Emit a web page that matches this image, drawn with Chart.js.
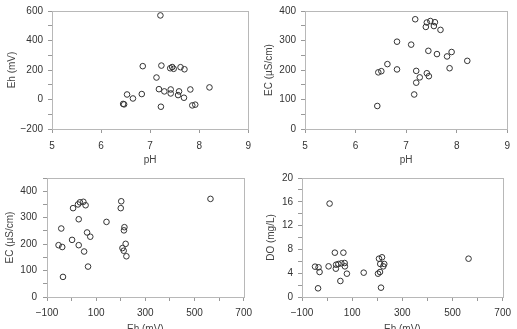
<!DOCTYPE html>
<html>
<head>
<meta charset="utf-8">
<script src="https://cdn.jsdelivr.net/npm/chart.js@4"></script>
<style>
  html, body { margin: 0; padding: 0; background: #fff; overflow: hidden; }
  body { width: 517px; height: 329px; position: relative; }
  canvas { position: absolute; }
</style>
</head>
<body>
<canvas id="c1" width="258" height="166" style="left:0;top:0"></canvas>
<canvas id="c2" width="259" height="166" style="left:258px;top:0"></canvas>
<canvas id="c3" width="258" height="169" style="left:0;top:166px"></canvas>
<canvas id="c4" width="259" height="169" style="left:258px;top:166px"></canvas>
<script>
// pH vs Eh
const phA = [7.21, 6.85, 7.23, 7.13, 7.41, 7.45, 7.48, 7.62, 7.70, 7.18, 7.29, 7.42, 7.42, 7.59, 7.57, 7.69, 7.82, 8.21, 6.53, 6.65, 6.83, 6.45, 6.47, 7.22, 7.86, 7.92];
const ehA = [570, 226, 230, 149, 212, 220, 208, 219, 205, 70, 55, 68, 41, 55, 30, 12, 68, 82, 34, 7, 37, -30, -33, -49, -40, -35];

// pH vs EC
const phB = [7.18, 7.41, 7.48, 7.57, 7.39, 7.55, 7.68, 6.82, 7.10, 7.44, 7.61, 7.90, 7.81, 8.21, 6.63, 6.82, 7.86, 6.45, 6.51, 7.20, 7.41, 7.27, 7.45, 7.20, 7.16, 6.43];
const ecB = [372, 361, 366, 362, 346, 349, 336, 296, 286, 265, 254, 261, 246, 231, 220, 202, 206, 192, 196, 197, 189, 175, 179, 157, 117, 78];

// Eh vs EC
const ehC = [565, 202, 200, 6, 26, 34, 48, 57, 29, 142, -42, 215, 213, 63, 76, 2, -53, -38, 29, 220, 207, 212, 51, 223, 67, -35];
const ecC = [371, 362, 336, 336, 350, 358, 360, 347, 294, 284, 259, 264, 252, 244, 228, 216, 196, 189, 196, 201, 185, 175, 172, 154, 115, 76];

// Eh vs DO
const ehD = [10, 31, 65, 207, 219, 564, 57, 70, 36, 45, 71, 35, -48, -34, 6, 212, 224, 228, -30, 79, 146, 203, 211, 53, -36, 215];
const doD = [15.7, 7.45, 7.45, 6.44, 6.67, 6.44, 5.66, 5.71, 5.43, 5.55, 5.15, 4.76, 5.1, 4.99, 5.15, 5.55, 5.15, 5.55, 4.2, 3.92, 4.09, 3.92, 4.2, 2.69, 1.46, 1.57];

// tick labels shown (others are minor ticks only)
const phTicks = [5, 6, 7, 8, 9];
const ehTicksY = [-200, 0, 200, 400, 600];
const ecTicksB = [0, 100, 200, 300, 400];
const ehTicksX = [-100, 100, 300, 500, 700];
const ecTicksC = [0, 100, 200, 300, 400];
const doTicks = [0, 4, 8, 12, 16, 20];

Chart.defaults.font.family = "'Liberation Sans', Arial, sans-serif";
Chart.defaults.font.size = 10;
Chart.defaults.color = '#333';

const fmt = (v) => (v < 0 ? '\u2212' + Math.abs(v) : String(v));

// draws the light frame around the plot area
const framePlugin = {
  id: 'frame',
  afterDraw(chart) {
    const { ctx, chartArea: a } = chart;
    ctx.save();
    ctx.strokeStyle = '#b8b8b8';
    ctx.lineWidth = 1;
    ctx.strokeRect(Math.round(a.left) + 0.5, Math.round(a.top) + 0.5, Math.round(a.right - a.left), Math.round(a.bottom - a.top));
    ctx.restore();
  }
};

function axis(o) {
  return {
    type: 'linear',
    min: o.min,
    max: o.max,
    afterFit: (s) => { if (o.w !== undefined) s.width = o.w; if (o.h !== undefined) s.height = o.h; },
    ticks: {
      stepSize: o.step,
      padding: o.pad,
      autoSkip: false,
      maxRotation: 0,
      callback: (v) => (o.labels.includes(v) ? fmt(v) : '')
    },
    grid: { drawOnChartArea: false, tickLength: 4, color: '#999' },
    border: { display: true, color: '#999' },
    title: { display: true, text: o.title, color: '#444', font: { size: 10 }, padding: o.tpad }
  };
}

function makeChart(id, xs, ys, xOpt, yOpt, padding) {
  const pts = xs.map((x, i) => ({ x: x, y: ys[i] }));
  return new Chart(document.getElementById(id), {
    type: 'scatter',
    data: {
      datasets: [{
        data: pts,
        pointStyle: 'circle',
        pointRadius: 2.8,
        borderWidth: 1,
        borderColor: '#333',
        backgroundColor: 'rgba(0,0,0,0)'
      }]
    },
    options: {
      responsive: false,
      animation: false,
      devicePixelRatio: 1,
      layout: { padding: padding },
      plugins: { legend: { display: false }, tooltip: { enabled: false } },
      scales: { x: axis(xOpt), y: axis(yOpt) }
    },
    plugins: [framePlugin]
  });
}

makeChart('c1', phA, ehA,
  { min: 5, max: 9, step: 1, labels: phTicks, title: 'pH', h: 37, pad: 7, tpad: { top: 0, bottom: 0 } },
  { min: -200, max: 600, step: 100, labels: ehTicksY, title: 'Eh (mV)', w: 52, pad: 5, tpad: { top: 6, bottom: 0 } },
  { top: 10, right: 6, left: 0, bottom: 0 });

makeChart('c2', phB, ecB,
  { min: 5, max: 9, step: 1, labels: phTicks, title: 'pH', h: 37, pad: 7, tpad: { top: 0, bottom: 0 } },
  { min: 0, max: 400, step: 50, labels: ecTicksB, title: 'EC (\u00b5S/cm)', w: 47, pad: 5, tpad: { top: 5, bottom: 0 } },
  { top: 10, right: 6, left: 0, bottom: 0 });

makeChart('c3', ehC, ecC,
  { min: -100, max: 700, step: 100, labels: ehTicksX, title: 'Eh (mV)', h: 38, pad: 6, tpad: { top: 0, bottom: 0 } },
  { min: 0, max: 450, step: 50, labels: ecTicksC, title: 'EC (\u00b5S/cm)', w: 47, pad: 6, tpad: { top: 4, bottom: 0 } },
  { top: 12, right: 12, left: 0, bottom: 0 });

makeChart('c4', ehD, doD,
  { min: -100, max: 700, step: 100, labels: ehTicksX, title: 'Eh (mV)', h: 38, pad: 6, tpad: { top: 0, bottom: 0 } },
  { min: 0, max: 20, step: 2, labels: doTicks, title: 'DO (mg/L)', w: 44, pad: 5, tpad: { top: 7, bottom: 0 } },
  { top: 12, right: 9, left: 0, bottom: 0 });
</script>
</body>
</html>
